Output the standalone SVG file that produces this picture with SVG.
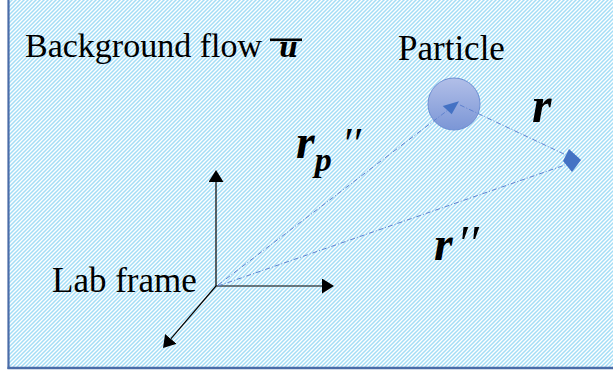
<svg xmlns="http://www.w3.org/2000/svg" width="613" height="373" viewBox="0 0 613 373">
  <defs>
    <pattern id="hatch" patternUnits="userSpaceOnUse" width="4" height="4">
      <path d="M-1,5 L5,-1 M-1,1 L1,-1 M3,5 L5,3" stroke="#a4ddf6" stroke-width="1.5" fill="none"/>
    </pattern>
    <linearGradient id="pg" x1="0" y1="0" x2="0" y2="1">
      <stop offset="0" stop-color="#b2bfe8"/>
      <stop offset="1" stop-color="#7b96d6"/>
    </linearGradient>
    <marker id="ah" viewBox="0 0 12 15" refX="0" refY="7.5" markerWidth="12" markerHeight="15" markerUnits="userSpaceOnUse" orient="auto">
      <path d="M0,0 L12,7.5 L0,15 Z" fill="#000"/>
    </marker>
  </defs>
  <style>
    .lbl { font-family: "Liberation Serif", "Times New Roman", serif; fill: #000; }
    .math { font-family: "Liberation Serif", "Times New Roman", serif; font-weight: bold; font-style: italic; fill: #000; }
    .prime { font-family: "Liberation Serif", "Times New Roman", serif; font-style: italic; fill: #000; }
    .axis { stroke: #000; stroke-width: 1.2; fill: none; marker-end: url(#ah); }
    .dd { stroke: #5f82cf; stroke-width: 1; fill: none; stroke-dasharray: 5 2 1 2; }
  </style>
  <rect x="0" y="0" width="613" height="373" fill="#fff"/>
  <rect x="9" y="0" width="604" height="367" fill="url(#hatch)"/>
  <line x1="8.5" y1="0" x2="8.5" y2="369" stroke="#4a6ca8" stroke-width="2.2"/>
  <line x1="7.5" y1="368" x2="613" y2="368" stroke="#4a6ca8" stroke-width="2.5"/>

  <g id="background-label">
    <text class="lbl" x="25" y="57" font-size="34">Background flow <tspan font-family="'DejaVu Serif', serif" font-weight="bold" font-style="italic" font-size="27" dx="8">u</tspan></text>
    <rect x="270" y="38.5" width="32" height="2.6" fill="#000"/>
  </g>

  <g id="particle">
    <circle cx="454" cy="104" r="26" fill="url(#pg)" stroke="#6d8ed2" stroke-width="1"/>
    <text class="lbl" x="398" y="60" font-size="35">Particle</text>
  </g>

  <g id="lab-frame">
    <line class="axis" x1="216" y1="286" x2="216" y2="182"/>
    <line class="axis" x1="216" y1="286" x2="322" y2="286"/>
    <line class="axis" x1="216" y1="286" x2="170.8" y2="338.9"/>
    <text class="lbl" x="52" y="292" font-size="35">Lab frame</text>
  </g>

  <g id="connectors">
    <line class="dd" x1="218" y1="285" x2="448" y2="110"/>
    <polygon points="442.7,106 459,101.3 451.7,114.3" fill="#4472c4"/>
    <line class="dd" x1="460" y1="105" x2="566" y2="155"/>
    <line class="dd" x1="218" y1="286" x2="565" y2="165"/>
    <polygon points="569,149 581,160 572,172 563,161" fill="#4472c4"/>
  </g>

  <g id="labels">
    <text class="math" x="532" y="122" font-size="50">r</text>
    <text class="math" x="296" y="158" font-size="48">r<tspan font-size="34" dy="13">p</tspan><tspan class="prime" font-size="44" font-weight="normal" dy="-13" dx="10">′′</tspan></text>
    <text class="math" x="434" y="260" font-size="48">r<tspan class="prime" font-size="50" font-weight="normal" dx="4" dy="0">′′</tspan></text>
  </g>
</svg>
